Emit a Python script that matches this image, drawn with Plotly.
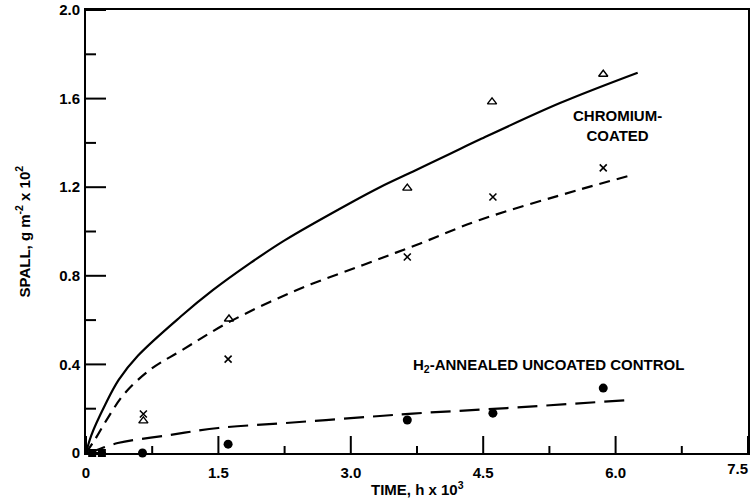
import plotly.graph_objects as go

# ---- data ----
# Chromium-coated, triangles
tri_x = [-0.03, 0.65, 1.62, 3.64, 4.60, 5.86]
tri_y = [0.005, 0.145, 0.605, 1.196, 1.585, 1.71]
# crosses
crs_x = [0.65, 1.61, 3.64, 4.61, 5.86]
crs_y = [0.176, 0.424, 0.885, 1.156, 1.287]
# H2-annealed uncoated control, filled circles
dot_x = [0.64, 1.61, 3.64, 4.61, 5.86]
dot_y = [0.0, 0.04, 0.149, 0.18, 0.293]
# near-origin squares
sq_x = [0.07, 0.18]
sq_y = [0.0, 0.0]

# fitted curves
solid_x = [0, 0.06, 0.22, 0.37, 0.59, 1.07, 1.44, 1.86, 2.25, 3.0, 3.33, 3.70, 4.12, 4.46, 5.37, 6.25]
solid_y = [0, 0.08, 0.22, 0.33, 0.44, 0.615, 0.736, 0.857, 0.96, 1.13, 1.20, 1.27, 1.35, 1.415, 1.58, 1.717]
dash_x = [0, 0.10, 0.25, 0.44, 0.74, 1.07, 1.63, 2.39, 3.14, 3.78, 4.46, 5.6, 6.14]
dash_y = [0, 0.06, 0.16, 0.27, 0.38, 0.46, 0.593, 0.736, 0.849, 0.945, 1.052, 1.19, 1.25]
ctrl_x = [0, 0.06, 0.36, 0.93, 1.5, 2.25, 3.33, 3.7, 4.77, 6.14]
ctrl_y = [0, 0.005, 0.045, 0.08, 0.113, 0.135, 0.167, 0.178, 0.203, 0.239]

# ticks
x_ticks = [0, 1.5, 3.0, 4.5, 6.0, 7.5]
x_ticktext = ["0", "1.5", "3.0", "4.5", "6.0", "7.5"]
y_ticks = [0, 0.4, 0.8, 1.2, 1.6, 2.0]
y_ticktext = ["0", "0.4", "0.8", "1.2", "1.6", "2.0"]
x_minor = [0.75, 2.25, 3.75, 5.25, 6.75]
y_minor = [0.2, 0.6, 1.0, 1.4, 1.8]

FONT = "Liberation Sans, Arial, sans-serif"
X_RANGE = [0, 7.5]
Y_RANGE = [0, 2.0]
W, H = 752, 499
M = dict(l=86, r=4, t=10, b=46)
PLOT_W = W - M["l"] - M["r"]
PLOT_H = H - M["t"] - M["b"]
# tick lengths in pixels converted to axis units
X_PER_PX = (X_RANGE[1] - X_RANGE[0]) / PLOT_W
Y_PER_PX = (Y_RANGE[1] - Y_RANGE[0]) / PLOT_H

fig = go.Figure()
fig.add_trace(go.Scatter(x=solid_x, y=solid_y, mode="lines", line=dict(color="black", width=2.2, shape="spline"), showlegend=False))
fig.add_trace(go.Scatter(x=dash_x, y=dash_y, mode="lines", line=dict(color="black", width=2.2, shape="spline", dash="11px,7px"), showlegend=False))
fig.add_trace(go.Scatter(x=ctrl_x, y=ctrl_y, mode="lines", line=dict(color="black", width=2.2, shape="spline", dash="20px,9px"), showlegend=False))

# inward tick marks as line segments built from the tick arrays
tx, ty = [], []
for v, ln in [(v, 17) for v in x_ticks] + [(v, 7) for v in x_minor]:
    tx += [v, v, None]
    ty += [Y_RANGE[0], Y_RANGE[0] + ln * Y_PER_PX, None]
for v, ln in [(v, 20) for v in y_ticks] + [(v, 10) for v in y_minor]:
    tx += [X_RANGE[0], X_RANGE[0] + ln * X_PER_PX, None]
    ty += [v, v, None]
fig.add_trace(go.Scatter(x=tx, y=ty, mode="lines", line=dict(color="black", width=2.0),
                         connectgaps=False, showlegend=False, hoverinfo="skip"))

fig.add_trace(go.Scatter(x=tri_x, y=tri_y, mode="markers", cliponaxis=False,
                         marker=dict(symbol="triangle-up-open", size=8, color="black", line=dict(width=1.4)), showlegend=False))
fig.add_trace(go.Scatter(x=crs_x, y=crs_y, mode="markers", cliponaxis=False,
                         marker=dict(symbol="x-thin-open", size=7, color="black", line=dict(width=1.6)), showlegend=False))
fig.add_trace(go.Scatter(x=dot_x, y=dot_y, mode="markers", cliponaxis=False,
                         marker=dict(symbol="circle", size=9, color="black"), showlegend=False))
fig.add_trace(go.Scatter(x=sq_x, y=sq_y, mode="markers", cliponaxis=False,
                         marker=dict(symbol="square", size=8, color="black"), showlegend=False))
# empty trace carrying the overlay axis used for the last x label
fig.add_trace(go.Scatter(x=[], y=[], xaxis="x4", yaxis="y4", showlegend=False, hoverinfo="skip"))

fig.update_layout(
    width=W, height=H,
    margin=M,
    paper_bgcolor="white", plot_bgcolor="white",
    font=dict(family=FONT, size=15, color="black"),
    xaxis=dict(range=X_RANGE, tickmode="array", tickvals=x_ticks[:-1], ticktext=x_ticktext[:-1],
               tickfont=dict(weight="bold"), ticks="", ticklabelstandoff=5,
               showline=True, linecolor="black", linewidth=1.8, mirror=True,
               showgrid=False, zeroline=False, automargin=False),
    yaxis=dict(range=Y_RANGE, tickmode="array", tickvals=y_ticks, ticktext=y_ticktext,
               tickfont=dict(weight="bold"), ticks="", ticklabelstandoff=1,
               showline=True, linecolor="black", linewidth=1.8, mirror=True,
               showgrid=False, zeroline=False, automargin=False),
    # last x label, kept inside the frame edge
    xaxis4=dict(range=X_RANGE, overlaying="x", anchor="y4", side="bottom",
                tickmode="array", tickvals=x_ticks[-1:], ticktext=x_ticktext[-1:],
                ticklabelposition="outside left", ticklabelstandoff=5,
                tickfont=dict(weight="bold"), ticks="", showline=False, showgrid=False,
                zeroline=False, automargin=False),
    yaxis4=dict(range=Y_RANGE, overlaying="y", anchor="x4", visible=False),
    annotations=[
        dict(text="<b>TIME, h x 10<sup>3</sup></b>", x=0.5, xref="paper", y=0, yref="paper",
             yanchor="top", yshift=-24, showarrow=False, font=dict(size=15)),
        dict(text="<b>SPALL, g m<sup>-2</sup> x 10<sup>2</sup></b>", x=0, xref="paper", y=0.5, yref="paper",
             xanchor="center", xshift=-63, textangle=-90, showarrow=False, font=dict(size=15)),
        dict(text="<b>CHROMIUM-<br>COATED</b>", x=6.02, y=1.48, xref="x", yref="y",
             showarrow=False, font=dict(size=15), align="center"),
        dict(text="<b>H<sub>2</sub>-ANNEALED UNCOATED CONTROL</b>", x=5.24, y=0.397, xref="x", yref="y",
             showarrow=False, font=dict(size=15)),
    ],
)

fig.write_html("out.html", config={"displayModeBar": False},
               post_script="document.body.style.margin='0px';")
